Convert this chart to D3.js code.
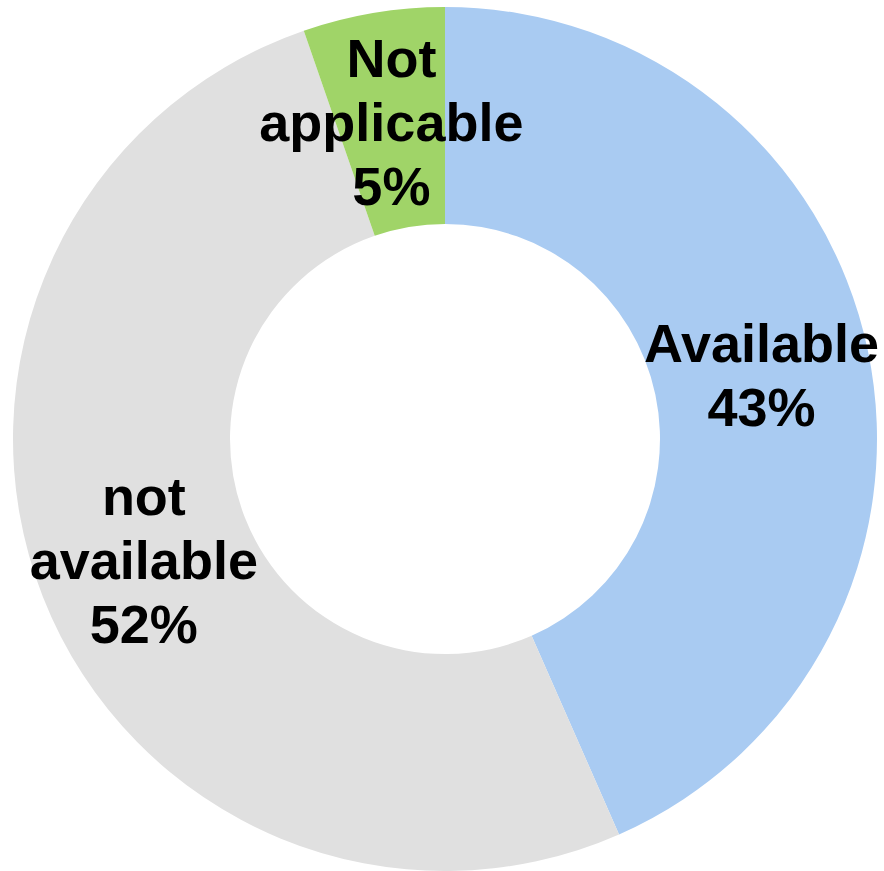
<!DOCTYPE html>
<html>
<head>
<meta charset="utf-8">
<script src="https://cdn.jsdelivr.net/npm/d3@7"></script>
<style>
  html, body { margin: 0; padding: 0; background: #fff; }
  svg { display: block; }
</style>
</head>
<body>
<svg id="chart" width="884" height="871"></svg>
<script>
const categories = ["Available", "not available", "Not applicable"];
const labelLines = [["Available"], ["not", "available"], ["Not", "applicable"]];
const values = [43.4, 51.3, 5.3];
// percentages as printed on the labels
const percentLabels = ["43%", "52%", "5%"];
const colors = ["#A9CBF2", "#E0E0E0", "#A0D468"];

const svg = d3.select("#chart");
const cx = 445, cy = 439, outerR = 432, innerR = 215;
const g = svg.append("g").attr("transform", `translate(${cx},${cy})`);

const data = categories.map((c, i) => ({ name: c, value: values[i], lines: labelLines[i], pct: percentLabels[i], color: colors[i] }));

const pie = d3.pie().value(d => d.value).sort(null);
const arc = d3.arc().innerRadius(innerR).outerRadius(outerR);
const arcs = pie(data);

g.selectAll("path.slice")
  .data(arcs)
  .enter().append("path")
  .attr("class", "slice")
  .attr("d", arc)
  .attr("fill", d => d.data.color);

const lineH = 64;
const fontSize = 54;
const labels = g.selectAll("text.lbl")
  .data(arcs)
  .enter().append("text")
  .attr("class", "lbl")
  .attr("transform", d => `translate(${arc.centroid(d)})`)
  .attr("text-anchor", "middle")
  .style("font-family", "'Liberation Sans', Arial, sans-serif")
  .style("font-weight", "bold")
  .style("font-size", fontSize + "px")
  .attr("fill", "#000");

labels.each(function(d) {
  const lines = d.data.lines.concat([d.data.pct]);
  const n = lines.length;
  const t = d3.select(this);
  lines.forEach((ln, i) => {
    t.append("tspan")
      .attr("x", 0)
      .attr("y", (i - (n - 1) / 2) * lineH + 21.5)
      .text(ln);
  });
});
</script>
</body>
</html>
